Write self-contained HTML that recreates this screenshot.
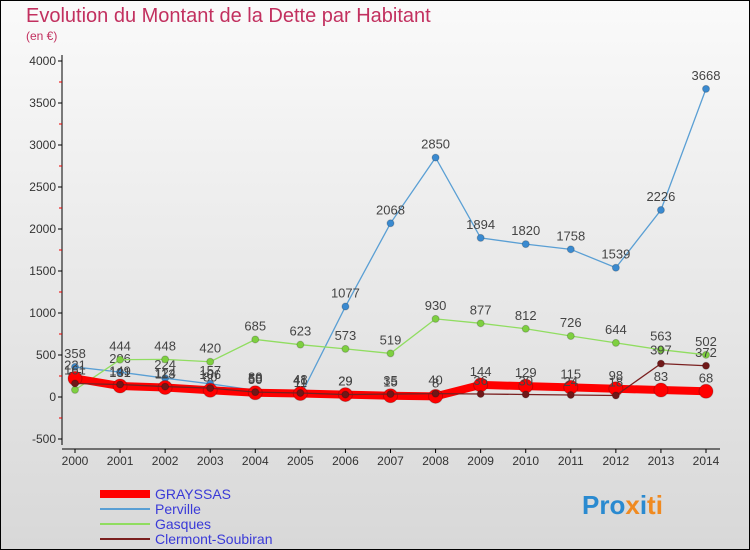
<!DOCTYPE html>
<html><head><meta charset="utf-8"><style>
body{margin:0}
#c{width:750px;height:550px;position:relative;box-sizing:border-box;border:1px solid #000;background:linear-gradient(#fafafa,#d8d8d8);font-family:"Liberation Sans",sans-serif;overflow:hidden}
</style></head><body>
<div id="c">
<svg id="s" width="750" height="550" style="position:absolute;left:-1px;top:-1px" font-family="Liberation Sans, sans-serif">
<text x="26" y="22" font-size="20" fill="#c2305f">Evolution du Montant de la Dette par Habitant</text>
<text x="26" y="40" font-size="12" fill="#c2305f">(en €)</text>
</svg>
</div>
<script>
const years=[2000,2001,2002,2003,2004,2005,2006,2007,2008,2009,2010,2011,2012,2013,2014];
const yTicks=[-500,0,500,1000,1500,2000,2500,3000,3500,4000];
const grayssas=[221,131,113,80,50,41,29,15,8,144,129,115,98,83,68];
const perville=[358,296,224,157,80,11,1077,2068,2850,1894,1820,1758,1539,2226,3668];
const gasques=[85,444,448,420,685,623,573,519,930,877,812,726,644,563,502];
const clermont=[161,149,124,106,58,48,29,35,40,36,30,24,18,397,372];
const s=document.getElementById('s');const NS='http://www.w3.org/2000/svg';
const X=i=>75+i*(706-75)/14;const Y=v=>397-v*0.084;
function mk(t,a,p){const e=document.createElementNS(NS,t);for(const k in a)e.setAttribute(k,a[k]);(p||s).appendChild(e);return e;}
const ax=mk('line',{x1:62,y1:55,x2:62,y2:445,stroke:'#000'});


yTicks.forEach(v=>{mk('line',{x1:58,x2:62,y1:Y(v),y2:Y(v),stroke:'#000'});
const t=mk('text',{x:56,y:Y(v)+4,'font-size':12,fill:'#333','text-anchor':'end'});t.textContent=v;


if(v<4000)mk('line',{x1:59,x2:62,y1:Y(v+250),y2:Y(v+250),stroke:'#e00'});});
const xa=mk('line',{x1:62,y1:449,x2:720,y2:449,stroke:'#000'});


years.forEach((y,i)=>{mk('line',{x1:X(i),x2:X(i),y1:449,y2:453,stroke:'#000'});
const t=mk('text',{x:X(i),y:465,'font-size':12,fill:'#333','text-anchor':'middle'});t.textContent=y;

});
function series(d,col,w,r,name,pc){
const g=mk('g',{});
mk('polyline',{points:d.map((v,i)=>X(i)+','+Y(v)).join(' '),fill:'none',stroke:col,'stroke-width':w},g);
d.forEach((v,i)=>{const c=mk('circle',{cx:X(i),cy:Y(v),r:r,fill:pc,stroke:'#0003'},g);


const t=mk('text',{x:X(i),y:Y(v)-9,'font-size':13,fill:'#444','text-anchor':'middle'},g);t.textContent=v;

});}
series(perville,'#5a9fd4',1.3,3.5,'perville','#3a8ad0');
series(gasques,'#90dd60',1.3,3.5,'gasques','#7ed040');
series(grayssas,'#ff0000',8,7,'grayssas','#ff0000');
series(clermont,'#7a2020',1.3,3.5,'clermont','#701818');
const L=[['GRAYSSAS','#ff0000',8],['Perville','#5a9fd4',2],['Gasques','#90dd60',2],['Clermont-Soubiran','#7a2020',2]];
L.forEach((l,i)=>{const y=494+i*15;const g=mk('g',{});


mk('line',{x1:100,x2:150,y1:y,y2:y,stroke:l[1],'stroke-width':l[2]},g);
const t=mk('text',{x:155,y:y+5,'font-size':14,fill:'#3a3ad8'},g);t.textContent=l[0];});
const p=mk('text',{x:582,y:514,'font-size':26,'font-weight':'bold',fill:'#2a8ad0'});


p.innerHTML='<tspan>Pro</tspan><tspan fill="#f08a20">x</tspan><tspan fill="#2a8ad0">i</tspan><tspan fill="#f08a20">ti</tspan>';
</script>
</body></html>
